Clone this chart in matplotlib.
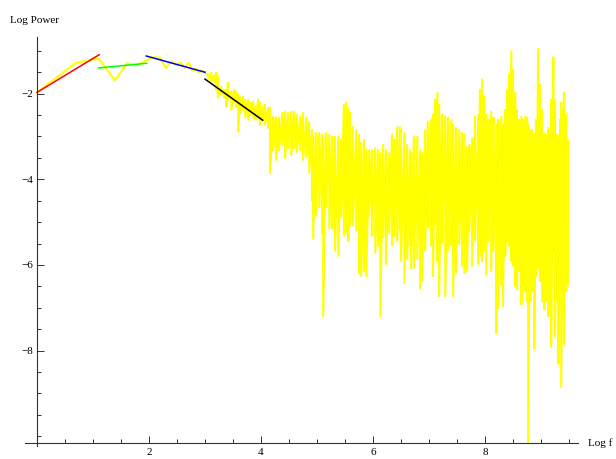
import numpy as np
import matplotlib.pyplot as plt
from matplotlib.ticker import FixedLocator

plt.rcParams['font.family'] = ['Liberation Serif', 'DejaVu Serif']

# first frequencies, one point each (x = log f)
low_x = [0.00, 0.69, 1.10, 1.39, 1.61, 1.79, 1.95, 2.08, 2.20, 2.30,
         2.40, 2.48, 2.56, 2.64, 2.71, 2.77, 2.83, 2.89, 2.94, 3.00]
low_y = [-1.97, -1.28, -1.18, -1.69, -1.29, -1.34, -1.22, -1.15, -1.16, -1.40,
         -1.24, -1.33, -1.27, -1.39, -1.27, -1.47, -1.42, -1.51, -1.45, -1.52]

# dense part: top and bottom of the trace, read column by column
high_x = [3.06, 3.11, 3.16, 3.20, 3.23, 3.29, 3.34, 3.38, 3.41, 3.47,
          3.52, 3.56, 3.59, 3.63, 3.68, 3.72, 3.77, 3.81, 3.86, 3.90,
          3.95, 3.98, 4.04, 4.07, 4.13, 4.16, 4.22, 4.27, 4.32, 4.38,
          4.43, 4.48, 4.54, 4.59, 4.64, 4.70, 4.75, 4.81, 4.86, 4.91,
          4.93, 4.98, 5.04, 5.09, 5.11, 5.16, 5.22, 5.27, 5.32, 5.38,
          5.43, 5.48, 5.52, 5.56, 5.59, 5.64, 5.70, 5.75, 5.79, 5.84,
          5.88, 5.93, 5.98, 6.04, 6.09, 6.13, 6.18, 6.23, 6.29, 6.34,
          6.38, 6.43, 6.48, 6.50, 6.56, 6.61, 6.66, 6.68, 6.73, 6.79,
          6.84, 6.88, 6.93, 6.98, 7.04, 7.07, 7.11, 7.15, 7.18, 7.23,
          7.29, 7.34, 7.40, 7.43, 7.48, 7.54, 7.59, 7.63, 7.68, 7.72,
          7.77, 7.82, 7.88, 7.91, 7.95, 7.98, 8.02, 8.06, 8.11, 8.15,
          8.20, 8.23, 8.29, 8.32, 8.36, 8.40, 8.43, 8.47, 8.50, 8.54,
          8.57, 8.61, 8.65, 8.68, 8.72, 8.75, 8.77, 8.81, 8.84, 8.88,
          8.91, 8.95, 8.98, 9.02, 9.06, 9.09, 9.13, 9.16, 9.18, 9.22,
          9.25, 9.29, 9.31, 9.34, 9.36, 9.40, 9.41, 9.45, 9.48]
high_top = [-1.55, -1.51, -1.58, -1.51, -1.60, -1.84, -1.91, -1.91, -1.74, -1.95,
            -1.91, -1.95, -2.02, -2.09, -2.07, -2.14, -2.14, -2.21, -2.19, -2.31,
            -2.14, -2.21, -2.31, -2.26, -2.33, -2.33, -2.54, -2.56, -2.56, -2.45,
            -2.42, -2.45, -2.42, -2.42, -2.49, -2.54, -2.45, -2.56, -2.66, -2.85,
            -3.01, -2.92, -2.92, -2.96, -3.01, -2.92, -2.96, -3.01, -3.01, -3.01,
            -3.08, -2.26, -2.21, -2.33, -2.45, -2.78, -2.85, -2.96, -3.15, -3.08,
            -3.32, -3.32, -3.32, -3.27, -3.32, -3.39, -3.20, -3.32, -3.39, -2.96,
            -3.08, -2.78, -2.78, -2.85, -2.92, -3.20, -3.32, -3.39, -3.01, -3.01,
            -3.32, -3.39, -2.85, -2.66, -2.61, -2.49, -2.14, -1.98, -2.26, -2.49,
            -2.54, -2.56, -2.61, -2.73, -2.80, -2.85, -2.92, -2.96, -3.25, -3.20,
            -3.04, -2.54, -2.49, -1.91, -1.67, -2.07, -2.49, -2.61, -2.42, -2.56,
            -2.73, -2.61, -2.54, -2.73, -2.38, -1.91, -1.55, -1.01, -1.44, -1.98,
            -2.38, -2.61, -2.54, -2.61, -2.54, -2.56, -2.73, -2.85, -2.85, -2.96,
            -2.61, -0.96, -1.79, -2.38, -2.92, -2.96, -2.80, -2.96, -2.14, -1.15,
            -2.14, -2.96, -3.01, -2.61, -2.21, -2.38, -1.98, -2.49, -3.08]
high_bot = [-1.65, -1.72, -1.74, -1.91, -2.09, -2.02, -2.09, -2.31, -2.14, -2.38,
            -2.19, -2.31, -2.89, -2.45, -2.38, -2.56, -2.61, -2.49, -2.56, -2.61,
            -2.56, -2.73, -2.61, -2.73, -2.80, -3.86, -3.32, -3.55, -3.32, -3.20,
            -3.51, -3.27, -3.44, -3.27, -3.36, -3.32, -3.55, -3.48, -3.84, -4.49,
            -5.39, -4.85, -4.66, -5.27, -7.20, -4.66, -5.15, -5.15, -5.67, -5.79,
            -4.89, -5.32, -5.25, -5.44, -5.08, -5.08, -5.20, -6.19, -6.26, -6.14,
            -6.26, -4.85, -5.32, -5.72, -5.55, -7.20, -5.36, -5.98, -5.27, -5.55,
            -5.32, -5.44, -5.20, -5.91, -6.42, -5.86, -5.55, -6.09, -6.07, -5.86,
            -6.56, -6.38, -5.67, -5.13, -5.55, -6.26, -5.04, -5.91, -6.73, -5.48,
            -6.73, -5.67, -5.55, -6.73, -6.19, -5.51, -6.02, -6.19, -6.14, -5.20,
            -6.02, -5.44, -5.98, -5.79, -5.91, -5.67, -6.21, -5.44, -6.14, -5.67,
            -7.60, -7.01, -6.45, -6.96, -5.79, -5.44, -5.55, -5.91, -6.02, -6.49,
            -6.56, -6.14, -6.92, -6.45, -6.61, -6.85, -10.16, -6.85, -6.61, -7.95,
            -6.26, -6.07, -6.38, -6.85, -7.04, -6.85, -7.20, -6.96, -7.91, -5.67,
            -7.67, -6.85, -8.31, -6.61, -8.85, -7.08, -7.86, -6.61, -6.45]

# straight line fits over four ranges
fit_x = [[0.00, 1.11], [1.10, 1.96], [1.95, 3.00], [3.00, 4.03]]
fit_y = [[-1.97, -1.09], [-1.40, -1.29], [-1.12, -1.50], [-1.66, -2.62]]
fit_colors = ['#ff0000', '#00ff00', '#0000ff', '#000000']

fig = plt.figure(figsize=(6.16, 4.59), dpi=100)
ax = fig.add_axes([0.0401, 0.0283, 0.8982, 0.8917])

trace_x = np.concatenate([low_x, np.repeat(high_x, 2)])
trace_y = np.concatenate([low_y, np.column_stack([high_top, high_bot]).ravel()])
ax.plot(trace_x, trace_y, color='#ffff00', lw=1.5)

for xs, ys, c in zip(fit_x, fit_y, fit_colors):
    ax.plot(xs, ys, color=c, lw=1.1)

ax.set_xlim(-0.22, 9.66)
ax.set_ylim(-10.23, -0.67)

for s in ['top', 'right']:
    ax.spines[s].set_visible(False)
ax.spines['left'].set_position(('data', 0))
ax.spines['bottom'].set_position(('data', -10.16))
for s in ['left', 'bottom']:
    ax.spines[s].set_linewidth(0.8)
    ax.spines[s].set_color('#333333')

ax.xaxis.set_major_locator(FixedLocator([2, 4, 6, 8]))
ax.xaxis.set_minor_locator(FixedLocator([0.5, 1, 1.5, 2.5, 3, 3.5, 4.5, 5, 5.5,
                                         6.5, 7, 7.5, 8.5, 9, 9.5]))
ax.set_xticklabels(['2', '4', '6', '8'])
ax.yaxis.set_major_locator(FixedLocator([-8, -6, -4, -2]))
ax.yaxis.set_minor_locator(FixedLocator([-10, -9.5, -9, -8.5, -7.5, -7, -6.5, -5.5,
                                         -5, -4.5, -3.5, -3, -2.5, -1.5, -1]))
ax.set_yticklabels(['\u22128', '\u22126', '\u22124', '\u22122'])

ax.tick_params(which='both', direction='in', color='#333333', width=0.7,
               labelsize=8)
ax.tick_params(which='major', length=5)
ax.tick_params(which='minor', length=3)
ax.tick_params(axis='x', pad=3.5)
ax.tick_params(axis='y', pad=3)

fig.text(0.0552, 0.956, 'Log Power', ha='center', va='center', fontsize=8)
ax.annotate('Log f', xy=(1.0, -10.16), xycoords=('axes fraction', 'data'),
            xytext=(7.5, 0), textcoords='offset points', ha='left', va='center',
            fontsize=8, annotation_clip=False)

fig.savefig('out.png', dpi=100)
